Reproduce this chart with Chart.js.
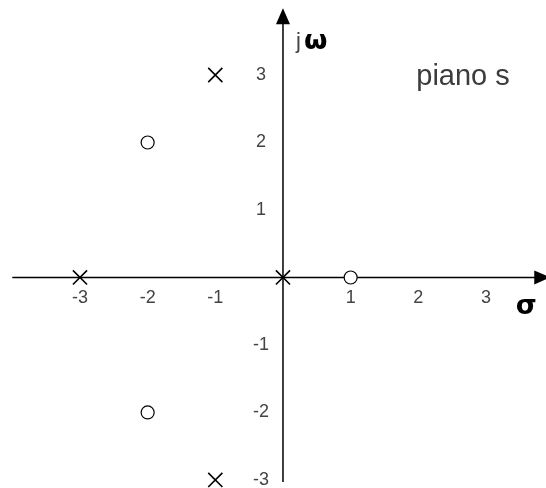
<!DOCTYPE html>
<html>
<head>
<meta charset="utf-8">
<script src="https://cdn.jsdelivr.net/npm/chart.js@4/dist/chart.umd.min.js"></script>
<style>
  html, body { margin: 0; padding: 0; background: #fff; }
  #wrap { width: 546px; height: 488px; position: relative; }
</style>
</head>
<body>
<div id="wrap"><canvas id="plane"></canvas></div>
<script>
// Poles (x) and zeros (o) in the s-plane
const poleRe = [-1, -3, 0, -1];
const poleIm = [3, 0, 0, -3];
const zeroRe = [-2, 1, -2];
const zeroIm = [2, 0, -2];

// Tick labels along the axes
const sigmaTicks = [-3, -2, -1, 1, 2, 3];
const omegaTicks = [3, 2, 1, -1, -2, -3];

// Axis extents (value units); arrows sit at the far ends
const sigmaFrom = -4.0, sigmaTo = 3.95;
const omegaFrom = -3.03, omegaTo = 3.99;

const tickFont = "18px 'Liberation Sans', Arial, sans-serif";
const tickColor = "#444";

function toPoints(re, im) {
    return re.map((v, i) => ({ x: v, y: im[i] }));
}

// Draws the cross-shaped axes, arrows, tick numbers and titles
const planeAxes = {
    id: "planeAxes",
    beforeDatasetsDraw(chart) {
        const { ctx, scales: { x, y } } = chart;
        const x0 = x.getPixelForValue(0);
        const y0 = y.getPixelForValue(0);
        const xL = x.getPixelForValue(sigmaFrom);
        const xR = x.getPixelForValue(sigmaTo);
        const yB = y.getPixelForValue(omegaFrom);
        const yT = y.getPixelForValue(omegaTo);

        ctx.save();
        ctx.strokeStyle = "#000";
        ctx.fillStyle = "#000";
        ctx.lineWidth = 1.5;
        ctx.beginPath();
        ctx.moveTo(xL, y0);
        ctx.lineTo(xR - 4, y0);
        ctx.moveTo(x0, yB);
        ctx.lineTo(x0, yT + 4);
        ctx.stroke();

        // arrow heads
        ctx.beginPath();
        ctx.moveTo(xR, y0);
        ctx.lineTo(xR - 16, y0 - 7);
        ctx.lineTo(xR - 16, y0 + 7);
        ctx.closePath();
        ctx.fill();
        ctx.beginPath();
        ctx.moveTo(x0, yT);
        ctx.lineTo(x0 - 7, yT + 16);
        ctx.lineTo(x0 + 7, yT + 16);
        ctx.closePath();
        ctx.fill();

        // tick numbers
        ctx.font = tickFont;
        ctx.fillStyle = tickColor;
        ctx.textAlign = "center";
        ctx.textBaseline = "middle";
        sigmaTicks.forEach(t => {
            ctx.fillText(String(t), x.getPixelForValue(t), y0 + 21);
        });
        omegaTicks.forEach(t => {
            ctx.fillText(String(t), x0 - 22, y.getPixelForValue(t));
        });

        // axis titles
        ctx.textAlign = "left";
        ctx.textBaseline = "alphabetic";
        ctx.font = "22px 'Liberation Sans', Arial, sans-serif";
        ctx.fillStyle = "#444";
        ctx.fillText("j", x0 + 13, yT + 40);
        ctx.fillStyle = "#000";
        ctx.font = "bold 27px 'DejaVu Sans', sans-serif";
        ctx.fillText("\u03c9", x0 + 21, yT + 41);
        ctx.fillText("\u03c3", x.getPixelForValue(3.44), y0 + 37);

        ctx.font = "29px 'Liberation Sans', Arial, sans-serif";
        ctx.fillStyle = "#3c3c3c";
        ctx.fillText("piano s", x.getPixelForValue(1.97), y.getPixelForValue(2.85));
        ctx.restore();
    }
};

new Chart(document.getElementById("plane"), {
    type: "scatter",
    data: {
        datasets: [
            {
                label: "poli",
                data: toPoints(poleRe, poleIm),
                pointStyle: "crossRot",
                pointRadius: 10,
                borderColor: "#000",
                borderWidth: 1.6,
                backgroundColor: "transparent"
            },
            {
                label: "zeri",
                data: toPoints(zeroRe, zeroIm),
                pointStyle: "circle",
                pointRadius: 6.5,
                borderColor: "#000",
                borderWidth: 1.2,
                backgroundColor: "#fff"
            }
        ]
    },
    options: {
        responsive: true,
        maintainAspectRatio: false,
        animation: false,
        layout: { padding: 0, autoPadding: false },
        plugins: {
            legend: { display: false },
            tooltip: { enabled: false }
        },
        scales: {
            x: { type: "linear", display: false, min: -4.182, max: 3.887 },
            y: { type: "linear", display: false, min: -3.119, max: 4.111 }
        }
    },
    plugins: [planeAxes]
});
</script>
</body>
</html>
